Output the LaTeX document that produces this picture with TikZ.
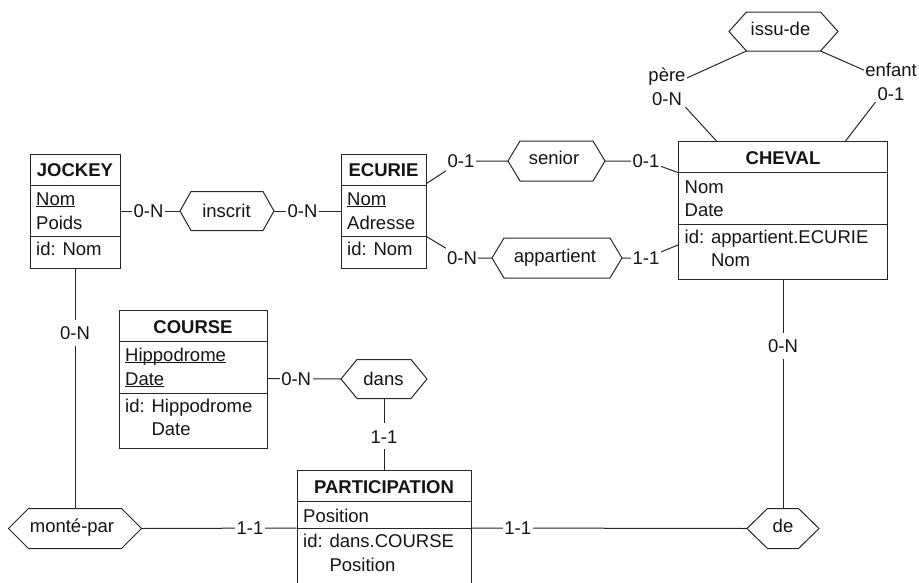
\documentclass[tikz,border=0pt]{standalone}
\usepackage{fontspec}
\setmainfont{Liberation Sans}
\usetikzlibrary{calc}
\newcommand\fs{\fontsize{18.5pt}{23pt}\selectfont}
\newcommand\myul[1]{\setbox0\hbox{#1}\rlap{\rule[-1.7pt]{\wd0}{1.1pt}}\box0}
\tikzset{
 lin/.style={draw=black!85, line width=1pt},
 entbox/.style={lin, rectangle, inner sep=0pt},
 etitle/.style={font=\fs\bfseries, anchor=base, inner sep=0pt, text=black!92},
 attr/.style={font=\fs, anchor=base west, inner sep=0pt, text=black!92},
 reltext/.style={font=\fs, anchor=base, inner sep=0pt, text=black!92},
 card/.style={font=\fs, fill=white, inner xsep=1.5pt, inner ysep=0pt, text height=13.3pt, text depth=0pt, minimum height=26pt, text=black!92},
 cardtwo/.style={font=\fontsize{18.5pt}{24.5pt}\selectfont, fill=white, inner sep=1pt, align=center, text=black!92},
}
% entity: name, cx, cy, w, h, title
\newcommand\ent[6]{%
  \node[entbox, minimum width=#4pt, minimum height=#5pt] (#1) at (#2,#3) {};
  \node[etitle] (#1-t) at ([yshift=-23pt]#1.north) {#6};
  \draw[lin] ([yshift=-31.5pt]#1.north west) -- ([yshift=-31.5pt]#1.north east);
}
% hexagon: name, cx, cy, hw, hh, indent, tx, ty, text
\newcommand\hexa[9]{%
  \coordinate (#1) at (#2,#3);
  \coordinate (#1-w) at ({#2-#4},#3);
  \coordinate (#1-e) at ({#2+#4},#3);
  \coordinate (#1-nw) at ({#2-#4+#6},{#3-#5});
  \coordinate (#1-ne) at ({#2+#4-#6},{#3-#5});
  \coordinate (#1-sw) at ({#2-#4+#6},{#3+#5});
  \coordinate (#1-se) at ({#2+#4-#6},{#3+#5});
  \coordinate (#1-n) at (#2,{#3-#5});
  \coordinate (#1-s) at (#2,{#3+#5});
  \draw[lin] (#1-w) -- (#1-nw) -- (#1-ne) -- (#1-e) -- (#1-se) -- (#1-sw) -- cycle;
  \node[reltext] (#1-txt) at (#7,#8) {#9};
}
\begin{document}
\begin{tikzpicture}[x=1pt,y=-1pt]
\useasboundingbox (0,0) rectangle (919,582);
\clip (0,0) rectangle (919,582);

% ---------- entities ----------
\ent{jockey}{75}{211}{90}{114}{JOCKEY}
\draw[lin] ([yshift=-83pt]jockey.north west) -- ([yshift=-83pt]jockey.north east);
\node[attr] (jockey-a1) at ([xshift=6.5pt,yshift=-52pt]jockey.north west) {\myul{Nom}};
\node[attr] (jockey-a2) at ([xshift=6.5pt,yshift=-75.5pt]jockey.north west) {Poids};
\node[attr] (jockey-i1) at ([xshift=6.5pt,yshift=-102pt]jockey.north west) {id: Nom};

\ent{ecurie}{383.5}{211}{85}{114}{ECURIE}
\draw[lin] ([yshift=-83pt]ecurie.north west) -- ([yshift=-83pt]ecurie.north east);
\node[attr] (ecurie-a1) at ([xshift=6.5pt,yshift=-52pt]ecurie.north west) {\myul{Nom}};
\node[attr] (ecurie-a2) at ([xshift=6.5pt,yshift=-75.5pt]ecurie.north west) {Adresse};
\node[attr] (ecurie-i1) at ([xshift=6.5pt,yshift=-102pt]ecurie.north west) {id: Nom};

\ent{cheval}{783}{210.5}{209}{138}{CHEVAL}
\draw[lin] ([yshift=-83pt]cheval.north west) -- ([yshift=-83pt]cheval.north east);
\node[attr] (cheval-a1) at ([xshift=6.5pt,yshift=-52pt]cheval.north west) {Nom};
\node[attr] (cheval-a2) at ([xshift=6.5pt,yshift=-75.5pt]cheval.north west) {Date};
\node[attr] (cheval-i1) at ([xshift=6.5pt,yshift=-102pt]cheval.north west) {id: appartient.ECURIE};
\node[attr] (cheval-i2) at ([xshift=6.5pt,yshift=-125pt]cheval.north west) {\phantom{id: }Nom};

\ent{course}{193}{379.5}{148}{138}{COURSE}
\draw[lin] ([yshift=-83pt]course.north west) -- ([yshift=-83pt]course.north east);
\node[attr] (course-a1) at ([xshift=6.5pt,yshift=-51pt]course.north west) {\myul{Hippodrome}};
\node[attr] (course-a2) at ([xshift=6.5pt,yshift=-75pt]course.north west) {\myul{Date}};
\node[attr] (course-i1) at ([xshift=6.5pt,yshift=-102pt]course.north west) {id: Hippodrome};
\node[attr] (course-i2) at ([xshift=6.5pt,yshift=-125pt]course.north west) {\phantom{id: }Date};

\ent{participation}{384}{527.5}{174}{114}{PARTICIPATION}
\draw[lin] ([yshift=-58pt]participation.north west) -- ([yshift=-58pt]participation.north east);
\node[attr] (part-a1) at ([xshift=6.5pt,yshift=-52pt]participation.north west) {Position};
\node[attr] (part-i1) at ([xshift=6.5pt,yshift=-77pt]participation.north west) {id: dans.COURSE};
\node[attr] (part-i2) at ([xshift=6.5pt,yshift=-101pt]participation.north west) {\phantom{id: }Position};

% ---------- relationships ----------
\hexa{inscrit}{227}{211}{47}{19.5}{11}{226.5}{217}{inscrit}
\hexa{senior}{556.5}{161}{48.5}{20}{12}{554}{164.5}{senior}
\hexa{appartient}{557}{258}{65}{20}{12}{555}{262.5}{appartient}
\hexa{issude}{783.5}{31.5}{54.5}{19.5}{17.5}{780.5}{35.5}{issu-de}
\hexa{monte}{75}{528.5}{66.5}{20}{20}{72}{532}{monté-par}
\hexa{dans}{384}{379}{43}{19.5}{16}{383.5}{385}{dans}
\hexa{de}{783}{528.5}{36}{20}{20.5}{783}{532}{de}

% ---------- connectors ----------
\draw[lin] (jockey.east) -- (inscrit-w) node[card, pos=0.47] (c1) {0-N};
\draw[lin] (inscrit-e) -- (ecurie.west) node[card, pos=0.43] (c2) {0-N};

\coordinate (b3) at (461,161);
\draw[lin] ([yshift=-30pt]ecurie.north east) -- (b3) -- (senior-w);
\node[card] (c3) at (b3) {0-1};

\coordinate (b4) at (646,161);
\draw[lin] (senior-e) -- (b4) -- ([yshift=-31.5pt]cheval.north west);
\node[card] (c4) at (b4) {0-1};

\coordinate (b5) at (462,258);
\draw[lin] ([yshift=-83pt]ecurie.north east) -- (b5) -- (appartient-w);
\node[card] (c5) at (b5) {0-N};

\coordinate (b6) at (646,258);
\draw[lin] (appartient-e) -- (b6) -- ([yshift=-104pt]cheval.north west);
\node[card] (c6) at (b6) {1-1};

\coordinate (b7) at (667,87);
\draw[lin] (issude-sw) -- (b7) -- ([xshift=38.5pt]cheval.north west);
\node[cardtwo] (c7) at (b7) {père\\0-N};

\coordinate (b8) at (891,82);
\draw[lin] (issude-se) -- (b8) -- ([xshift=-42.5pt]cheval.north east);
\node[cardtwo] (c8) at (b8) {enfant\\0-1};

\draw[lin] (jockey.south) -- (monte-n) node[card, pos=0.267] (c9) {0-N};
\draw[lin] (monte-e) -- ([yshift=-58pt]participation.north west) node[card, pos=0.70] (c10) {1-1};
\draw[lin] ([yshift=-58pt]participation.north east) -- (de-w) node[card, pos=0.168] (c11) {1-1};
\draw[lin] (cheval.south) -- (de-n) node[card, pos=0.29] (c12) {0-N};
\draw[lin] ([yshift=-68.5pt]course.north east) -- (dans-w) node[card, pos=0.39] (c13) {0-N};
\draw[lin] (dans-s) -- (participation.north) node[card, pos=0.53] (c14) {1-1};
\end{tikzpicture}
\end{document}
